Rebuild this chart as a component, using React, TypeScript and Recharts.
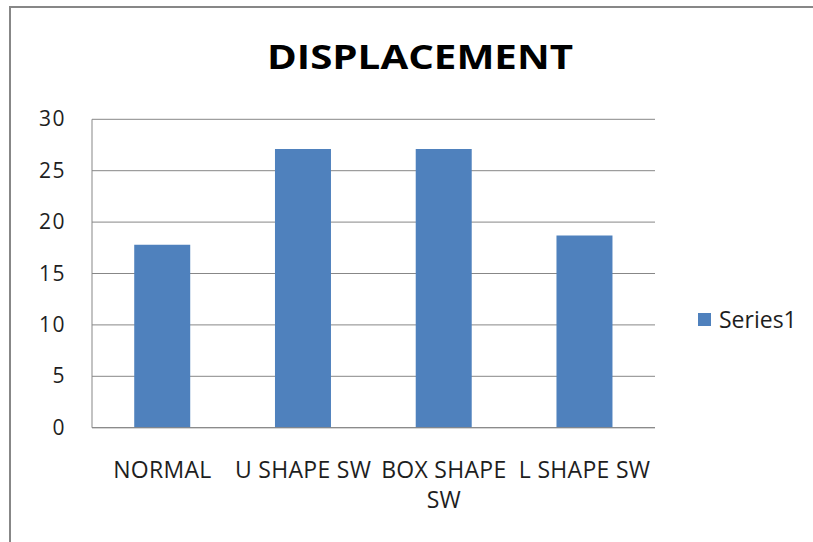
import React from "react";
import { BarChart, Bar, XAxis, YAxis, CartesianGrid, Legend } from "recharts";

const categories = ["NORMAL", "U SHAPE SW", "BOX SHAPE SW", "L SHAPE SW"];
const series1Values = [17.8, 27.1, 27.1, 18.7];
const yTicks = [0, 5, 10, 15, 20, 25, 30];
const seriesName = "Series1";
const chartTitle = "DISPLACEMENT";

const data = categories.map((c, i) => ({ category: c, value: series1Values[i] }));

const FONT = "'Open Sans', 'DejaVu Sans', sans-serif";
const BAR = "#4F81BD";
const GRID = "#878787";
const TXT = "#1e1e1e";
const LEGEND_W = 110;
const X_FONT_SIZE = 23;
const X_LETTER = 0.3;
const X_MAX_W = 140;

let ctx: CanvasRenderingContext2D | null = null;
function measure(s: string): number {
  if (!ctx && typeof document !== "undefined") {
    ctx = document.createElement("canvas").getContext("2d");
  }
  if (!ctx) return s.length * X_FONT_SIZE * 0.6;
  ctx.font = `${X_FONT_SIZE}px ${FONT}`;
  return ctx.measureText(s).width + s.length * X_LETTER;
}

function wrap(label: string, maxW: number): string[] {
  const words = label.split(" ");
  const lines: string[] = [];
  let cur = "";
  for (const w of words) {
    const cand = cur ? cur + " " + w : w;
    if (cur && measure(cand) > maxW) {
      lines.push(cur);
      cur = w;
    } else {
      cur = cand;
    }
  }
  if (cur) lines.push(cur);
  return lines;
}

const XTick = (props: any) => {
  const { x, y, payload } = props;
  const lines = wrap(String(payload.value), X_MAX_W);
  return (
    <text
      x={x}
      y={y + 50}
      textAnchor="middle"
      fontSize={X_FONT_SIZE}
      fontFamily={FONT}
      letterSpacing={X_LETTER}
      fill={TXT}
    >
      {lines.map((ln, i) => (
        <tspan key={i} x={x} dy={i === 0 ? 0 : 30}>
          {ln}
        </tspan>
      ))}
    </text>
  );
};

const YTick = (props: any) => {
  const { x, y, payload } = props;
  return (
    <text x={x - 26} y={y + 7} textAnchor="end" fontSize={21} letterSpacing={1.5} fontFamily={FONT} fill={TXT}>
      {payload.value}
    </text>
  );
};

const LegendContent = (props: any) => {
  const items = props.payload || [];
  return (
    <div style={{ display: "flex", flexDirection: "column" }}>
      {items.map((it: any) => (
        <div key={it.value} style={{ display: "flex", alignItems: "center", height: 24 }}>
          <div style={{ width: 13, height: 13, background: it.color, marginRight: 8 }} />
          <span style={{ fontFamily: FONT, fontSize: 23, color: TXT, lineHeight: "24px" }}>{it.value}</span>
        </div>
      ))}
    </div>
  );
};

export default function App() {
  return (
    <div style={{ position: "absolute", left: 0, top: 0, width: 813, height: 542, background: "#fff" }}>
      <BarChart
        width={813}
        height={542}
        data={data}
        margin={{ top: 119.3, right: 158 - LEGEND_W, bottom: 84.3, left: 32 }}
        barCategoryGap="30%"
      >
        <CartesianGrid vertical={false} stroke={GRID} strokeWidth={1} />
        <XAxis
          dataKey="category"
          height={30}
          tickSize={0}
          tickMargin={0}
          tickLine={false}
          axisLine={{ stroke: GRID, strokeWidth: 1 }}
          tick={(p: any) => <XTick x={p.x} y={p.y} payload={p.payload} />}
          interval={0}
        />
        <YAxis
          width={60}
          domain={[0, 30]}
          ticks={yTicks}
          tickSize={0}
          tickMargin={0}
          tickLine={false}
          axisLine={{ stroke: GRID, strokeWidth: 1 }}
          tick={(p: any) => <YTick x={p.x} y={p.y} payload={p.payload} />}
        />
        <Legend
          layout="horizontal"
          verticalAlign="middle"
          align="right"
          wrapperStyle={{ left: 698, top: 307, width: LEGEND_W }}
          content={<LegendContent />}
        />
        <Bar dataKey="value" name={seriesName} fill={BAR} isAnimationActive={false} />
      </BarChart>
      <svg
        width={813}
        height={542}
        style={{ position: "absolute", left: 0, top: 0, pointerEvents: "none" }}
      >
        <path d="M10,542 V7 H813" stroke={GRID} strokeWidth={2} fill="none" />
        <text
          x={420}
          y={69}
          textAnchor="middle"
          fontFamily={FONT}
          fontWeight={700}
          fontSize={34}
          textLength={306}
          lengthAdjust="spacingAndGlyphs"
          fill="#000"
        >
          {chartTitle}
        </text>
      </svg>
    </div>
  );
}
